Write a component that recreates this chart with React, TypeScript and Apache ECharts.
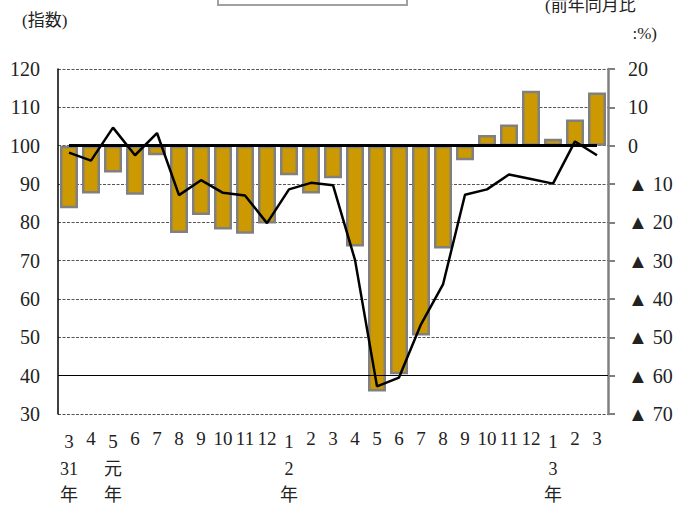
import React, { useEffect, useRef } from "react";
import * as echarts from "echarts";

// Month tick labels (平成31年3月 〜 令和3年3月)
const months = ["3", "4", "5", "6", "7", "8", "9", "10", "11", "12", "1", "2", "3", "4", "5", "6", "7", "8", "9", "10", "11", "12", "1", "2", "3"];
// Year labels shown under some months
const yearNums = ["31", "", "元", "", "", "", "", "", "", "", "2", "", "", "", "", "", "", "", "", "", "", "", "3", "", ""];
// 前年同月比 (%) – bars, right axis
const yoyChange = [-16.3, -12.5, -7.0, -12.8, -2.5, -22.8, -18.1, -21.9, -23.0, -20.3, -7.7, -12.5, -8.5, -26.3, -64.1, -59.6, -49.5, -26.8, -3.8, 2.8, 5.5, 14.3, 1.8, 6.8, 13.9];
// 指数 – line, left axis
const indexValues = [98.2, 96.1, 104.7, 97.5, 103.3, 87.1, 91.0, 87.7, 87.0, 79.8, 88.6, 90.3, 89.7, 70.2, 37.2, 39.5, 53.4, 63.8, 87.2, 88.6, 92.5, 91.3, 90.1, 101.1, 97.5];
// Reference lines
const BASE_INDEX = 100;
const SOLID_GRID_VALUE = 40;

const SERIF = "Liberation Serif, Noto Sans CJK JP, serif";
const CJK = "Liberation Serif, Noto Sans CJK JP";

export default function App() {
  const ref = useRef<HTMLDivElement>(null);
  useEffect(() => {
    if (!ref.current) return;
    const chart = echarts.init(ref.current, null, { renderer: "svg" });
    const gridLine = { show: true, lineStyle: { color: "#555", type: [3, 1.5] as any, width: 1 } };
    const txt = { fontFamily: SERIF, color: "#222" };
    chart.setOption({
      animation: false,
      backgroundColor: "#fff",
      textStyle: { fontFamily: SERIF },
      grid: { left: 58, right: 71, top: 69, bottom: 95, containLabel: false },
      xAxis: {
        type: "category",
        data: months,
        boundaryGap: true,
        axisLine: { show: false },
        axisTick: { show: false },
        axisLabel: {
          interval: 0,
          margin: 10,
          hideOverlap: false,
          fontFamily: SERIF,
          formatter: (value: string, idx: number) => {
            const y = yearNums[idx];
            if (y) return `{lo|${value}}\n{y|${y}}\n{n|年}`;
            return `{m|${value}}`;
          },
          rich: {
            m: { ...txt, fontSize: 19, lineHeight: 28 },
            lo: { ...txt, fontSize: 19, lineHeight: 34 },
            y: { ...txt, fontSize: 18, lineHeight: 22 },
            n: { ...txt, fontSize: 18, lineHeight: 30 },
          },
        },
      },
      yAxis: [
        {
          type: "value",
          min: 30,
          max: 120,
          interval: 10,
          position: "left",
          axisLine: { show: true, lineStyle: { color: "#000", width: 1.5 } },
          axisTick: { show: false },
          axisLabel: { margin: 18, ...txt, fontSize: 20 },
          splitLine: gridLine,
        },
        {
          type: "value",
          min: -70,
          max: 20,
          interval: 10,
          position: "right",
          axisLine: { show: true, lineStyle: { color: "#808080", width: 2.5 } },
          axisTick: { show: true, inside: false, length: 7, lineStyle: { color: "#808080", width: 2 } },
          axisLabel: {
            margin: 20,
            ...txt,
            fontSize: 20,
            formatter: (v: number) => (v < 0 ? "▲ " + -v : String(v)),
          },
          splitLine: { show: false },
        },
      ],
      series: [
        {
          type: "line",
          yAxisIndex: 0,
          data: [],
          z: 1,
          silent: true,
          markLine: {
            symbol: ["none", "none"],
            silent: true,
            label: { show: false },
            lineStyle: { color: "#000", width: 1.2, type: "solid" },
            data: [{ yAxis: SOLID_GRID_VALUE }],
          },
        },
        {
          name: "前年同月比",
          type: "bar",
          yAxisIndex: 1,
          data: yoyChange,
          barWidth: 18,
          z: 2,
          itemStyle: { color: "#CC9900", borderColor: "#808080", borderWidth: 2.5 },
        },
        {
          name: "指数",
          type: "line",
          yAxisIndex: 0,
          data: indexValues,
          z: 3,
          symbol: "none",
          lineStyle: { color: "#000", width: 2.5 },
          markLine: {
            symbol: ["none", "none"],
            silent: true,
            label: { show: false },
            lineStyle: { color: "#000", width: 3, type: "solid" },
            data: [[{ coord: [0, BASE_INDEX] }, { coord: [months.length - 1, BASE_INDEX] }]],
          },
        },
      ],
      graphic: [
        {
          type: "rect",
          shape: { x: 218, y: -30, width: 189, height: 35 },
          style: { fill: "#fff", stroke: "#a0a0a0", lineWidth: 2 },
        },
        {
          type: "text",
          x: 22,
          y: 20,
          style: { text: "(指数)", fontFamily: CJK, fontSize: 17, fill: "#222", verticalAlign: "middle" },
        },
        {
          type: "text",
          x: 545,
          y: 5,
          style: { text: "(前年同月比", fontFamily: CJK, fontSize: 17, fill: "#222", verticalAlign: "middle" },
        },
        {
          type: "text",
          x: 657,
          y: 33,
          style: { text: ":%)", fontFamily: CJK, fontSize: 17, fill: "#222", align: "right", verticalAlign: "middle" },
        },
      ],
    });
    return () => chart.dispose();
  }, []);
  return <div ref={ref} style={{ position: "fixed", left: 0, top: 0, width: 679, height: 509 }} />;
}
